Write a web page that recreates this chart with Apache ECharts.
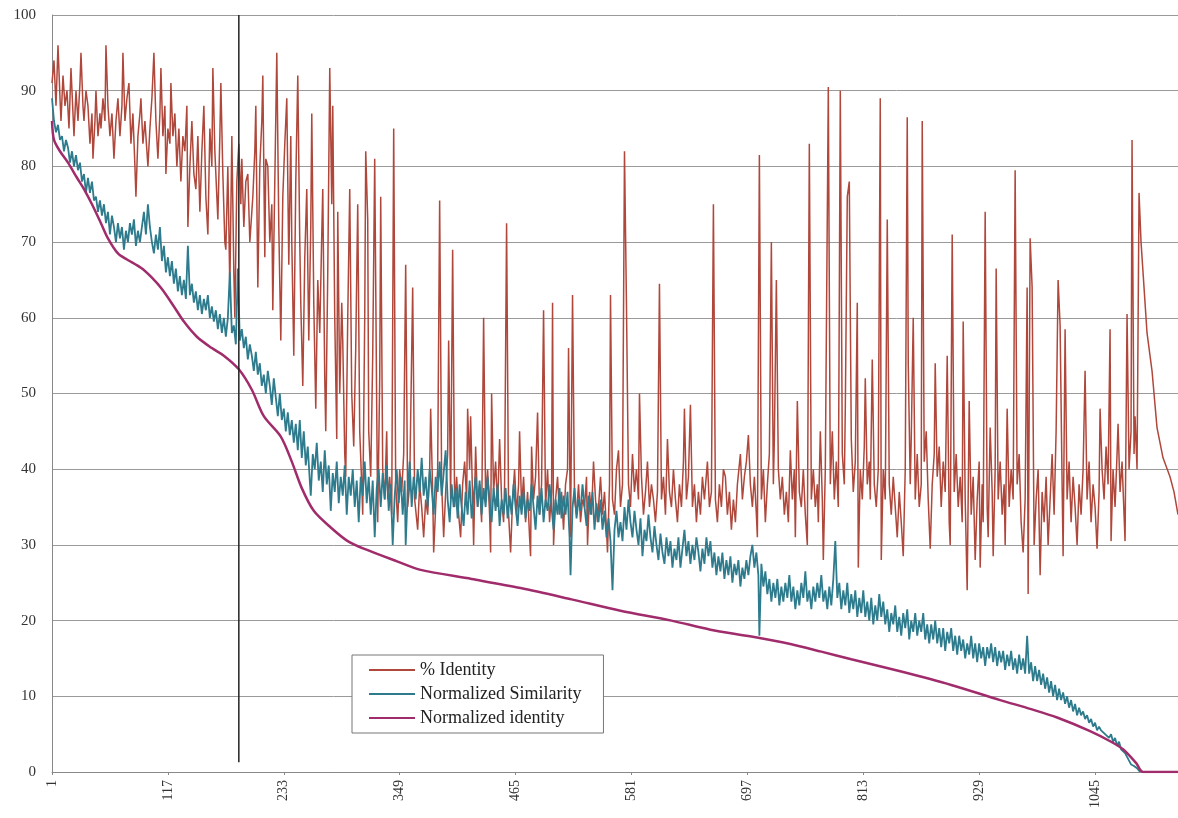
<!DOCTYPE html>
<html>
<head>
<meta charset="utf-8">
<script src="https://cdn.jsdelivr.net/npm/echarts@6/dist/echarts.min.js"></script>
<style>
  html, body { margin: 0; padding: 0; background: #fff; }
  #chart { width: 1178px; height: 818px; }
</style>
</head>
<body>
<div id="chart"></div>
<script>
// x = sequence position (0 based, label shows position + 1)
const tickLabels = ['1', '117', '233', '349', '465', '581', '697', '813', '929', '1045'];
const seriesNames = ['% Identity', 'Normalized Similarity', 'Normalized identity'];

const identityPct = [
  [0,91],[2,94],[4,88],[6,96],[8,89],[9,86],[11,92],[13,88],[15,90],[17,85],[19,93],[21,87],[22,84],[24,90],[26,86],[28,91],[29,95],[31,88],[32,86],[34,90],[36,88],[38,83],[40,87],[41,81],[43,86],[44,90],[46,84],[48,87],[49,85],[51,89],[53,86],[54,96],[56,88],[58,84],[60,87],[62,81],[64,86],[66,89],[68,84],[70,88],[71,95],[73,86],[75,89],[77,91],[79,83],[81,87],[83,80],[84,76],[86,84],[88,87],[89,89],[91,83],[93,86],[95,82],[96,80],[98,85],[100,89],[102,95],[104,86],[106,81],[108,87],[109,93],[111,84],[113,88],[114,79],[116,85],[118,83],[119,91],[121,84],[123,87],[125,80],[127,85],[129,78],[131,84],[133,82],[135,88],[136,72],[138,80],[140,86],[142,79],[144,77],[146,84],[148,74],[150,82],[152,88],[154,76],[156,71],[158,85],[160,80],[161,93],[163,82],[165,76],[166,73],[168,84],[169,91],[171,79],[173,70],[174,69],[176,80],[178,64],[180,84],[182,66],[183,60],[185,78],[187,83],[189,75],
  [190,81],[192,72],[194,78],[196,79],[198,70],[199,70],[201,76],[203,82],[204,88],[206,64],[208,80],[210,86],[211,92],[213,68],[214,81],[216,80],[218,70],[220,75],[221,61],[223,78],[225,95],[227,72],[229,57],[231,76],[233,83],[235,89],[237,67],[239,84],[240,70],[242,55],[244,78],[246,92],[248,70],[249,62],[251,51],[253,68],[255,77],[257,57],[259,72],[260,87],[262,62],[264,48],[266,65],[268,58],[270,71],[271,77],[273,52],[274,45],[276,66],[278,93],[280,75],[281,88],[283,60],[285,44],[286,74],[288,50],[290,62],[291,57],[293,42],[294,39],[296,60],[298,77],[300,50],[302,43],[304,56],[306,75],[308,45],[310,38],[311,34],[313,60],[314,82],[316,73],[317,45],[319,39],[321,55],[323,81],[325,48],[326,33],[328,52],[329,76],[331,40],[333,36],[335,45],[336,36],[338,39],[340,34],[342,85],[344,38],[346,33],[348,40],[350,37],[352,42],[354,67],[356,35],[358,38],[361,64],[363,36],[366,32],[368,38],[370,35],
  [372,31],[374,36],[376,34],[378,40],[379,48],[381,37],[382,29],[384,35],[386,40],[388,75.5],[390,38],[392,31],[394,37],[396,42],[397,57],[399,36],[401,69],[403,35],[405,39],[407,34],[409,31],[411,38],[413,41],[415,36],[416,48],[418,40],[419,47],[421,36],[422,30],[424,43],[426,35],[428,38],[430,33],[432,60],[434,36],[436,40],[438,34],[439,29],[440,50],[442,37],[444,41],[446,35],[448,44],[450,36],[452,33],[453,38],[455,72.5],[457,34],[459,29],[461,36],[463,40],[465,34],[467,38],[468,45],[470,35],[472,39],[474,33],[476,37],[478,31],[479,28.5],[480,43],[482,36],[484,39],[486,47.5],[488,34],[490,38],[492,61],[494,35],[496,40],[498,33],[500,37],[501,62],[502,30],[504,36],[506,39],[508,34],[510,37],[512,32],[514,38],[516,40],[517,56],[519,31],[521,63],[523,36],[525,34],[527,38],[529,33],[531,36],[533,35],[535,39],[536,30],[538,37],[540,34],[542,41],[544,36],[546,33],[548,37],[549,39],[551,34],[553,37],[555,32],[556,29],[558,38],[559,63],[561,36],[563,34],[565,40],[567,42.5],[569,35],
  [571,38],[573,82],[575,61.5],[577,38],[579,35],[581,42],[583,37],[585,40],[587,36],[588,50],[590,39],[592,34],[594,37],[596,41],[598,35],[600,38],[602,36],[604,33],[606,37],[608,64.5],[610,36],[612,39],[614,34],[616,44],[618,37],[620,35],[622,40],[624,36],[626,33],[628,38],[630,35],[632,41],[633,48],[635,36],[637,39],[639,48.5],[641,35],[643,38],[645,33],[647,37],[649,34],[651,39],[653,36],[656,41],[658,35],[660,37],[662,75],[664,36],[666,33],[668,38],[670,35],[672,40],[674,39],[676,34],[678,37],[680,32],[682,36],[684,33],[686,38],[689,42],[691,36],[693,39],[695,41],[697,44.5],[699,38],[701,35],[703,39],[705,34],[706,31],[708,81.5],[710,36],[712,40],[714,33],[716,38],[718,42],[720,70],[722,38],[723,44],[725,65],[727,40],[729,36],[731,39],[733,34],[735,37],[737,33],[739,42.5],[741,36],[743,40],[744,31],[746,49],[748,37],[750,35],[752,40],[754,34],[756,30],[758,83],[760,36],[762,40],[764,35],[766,38],[767,33],[769,45],[771,36],[772,28],[774,40],[777,90.5],[779,38],[781,45],[783,36],[785,41],[787,35],[789,90],[791,42],[793,38],[794,48],[796,76],[798,78],[800,44],[802,37],[804,41],[806,62],[807,27],[809,40],[811,36],[813,43],[814,52],[816,38],[818,41],[819,36],[821,54.5],[823,38],[825,35],[827,40],[829,89],
  [830,28],[832,40],[834,36],[836,73],[838,38],[840,34],[842,39],[844,35],[846,31],[848,37],[850,33],[852,28.5],[854,40],[856,86.5],[857,54],[859,38],[860,44],[862,60],[864,36],[866,42],[868,35],[870,38],[871,86],[873,41],[875,45],[877,36],[879,29.5],[881,38],[883,42],[884,54],[886,39],[888,43],[890,35],[892,41],[894,37],[896,55],[898,33],[899,30],[901,71],[903,37],[905,42],[907,35],[909,39],[911,33],[912,59.5],[914,36],[916,24],[918,49],[920,34],[922,39],[924,28],[926,36],[928,41],[929,27],[931,38],[932,33],[934,74],[936,35],[937,31],[939,45.5],[941,37],[942,28.5],[944,40],[945,66.5],[947,36],[949,41],[951,34],[953,38],[954,30],[956,48],[958,35],[960,40],[962,36],[964,79.5],[966,38],[968,42],[970,33],[972,29],[974,36],[976,64],[977,23.5],[979,70.5],[981,64],[983,30],[985,36],[987,40],[989,26],[991,37],[993,33],[995,39],[997,30],[999,36],[1001,42],[1003,34],[1005,45],[1007,65],[1009,59],[1011,38],[1012,28.5],[1014,58.5],[1016,36],[1018,41],[1020,33],[1022,39],[1024,35],[1026,30],[1028,38],[1030,34],[1032,40],[1034,53],[1036,36],[1038,41],[1040,33],[1042,38],[1044,35],[1046,29.5],[1048,37],[1049,48],[1051,40],[1053,36],[1055,43],[1057,38],[1059,58.5],[1060,30.5],[1062,40],[1064,35],[1066,42],[1067,46],[1069,37],[1071,41],[1073,34],[1074,30.5],[1076,60.5],[1078,40],[1080,45],[1081,83.5],[1083,42],[1084,47],[1086,40],[1088,76.5],[1090,70],[1092,66],[1096,58],[1101,53],[1106,45.5],[1112,41.5],[1119,39],[1123,37],[1127,34]
];

const normSimilarity = [
  [0,89],[2,86],[4,84.5],[6,85.5],[8,83.5],[10,84],[12,82],[14,83.5],[16,82.5],[18,80.5],[20,82],[22,80],[24,81.5],[26,79.5],[28,80.5],[30,78],[32,79],[34,76.5],[36,78.5],[38,76.5],[40,78],[42,75.5],[44,76],[46,74],[48,75.5],[50,73.5],[52,75],[54,72.5],[56,74],[58,71],[60,73.5],[62,72],[64,70],[66,72.5],[68,70.5],[70,72],[72,69],[74,71.5],[76,70],[78,72.5],[80,71],[82,73],[84,69.5],[86,71.5],[88,70],[90,72],[92,74],[94,71],[96,75],[98,72],[100,70],[102,68.5],[104,71],[106,69],[108,72],[110,67.5],[112,69.5],[114,66],[116,68],[118,65.5],[120,67.5],[122,64.5],[124,66.5],[126,63.5],[128,65.5],[130,63],[132,65],[134,62.5],[136,69.5],[138,63],[140,64.5],[142,62],[144,63.5],[146,61],[148,63],[150,60.5],[152,62.5],[154,61],[156,63],[158,60],[160,61.5],[162,59.5],[164,61],[166,58.5],[168,60.5],[170,58],[172,60],[174,57.5],[176,60],[178,66],[180,58],[182,59],[184,56.5],[186,66.5],[188,57],[190,58.5],[192,56],[194,57.5],[196,54.5],[198,56.5],[200,55],[202,53],[204,55.5],[206,52.5],[208,54],[210,51],[212,52.5],[214,50],[216,53],[218,51],[220,48.5],[222,52],[224,49.5],[226,47],[228,50],[230,46.5],[232,48],[234,45],[236,47.5],[238,44.5],[240,46.5],[242,43.5],[244,46],[246,42.5],[248,46.5],[250,41.5],[252,45],[254,40.5],[256,43],[258,38.5],[259,36.5],[261,42],[263,40],[265,43.5],[267,38.5],[269,41],[271,37],[273,42.5],[275,38],[277,40.5],[279,34.5],[281,39.5],[283,37],[285,41],[287,35.5],[289,39],[291,36.5],[293,40.5],[295,34],[297,39],[299,36.5],
  [301,40],[303,35],[305,38.5],[307,33],[309,39],[311,36.5],[313,41],[315,35.5],[317,39],[319,34],[321,38.5],[323,31],[325,37.5],[327,40],[329,35],[331,39.5],[333,36],[335,40.5],[337,34.5],[339,38],[341,30],[343,36.5],[345,40],[347,35.5],[349,39],[351,34],[353,38.5],[354,30],[356,37],[358,41],[360,35],[362,39],[364,36],[366,40],[368,37],[370,41.5],[372,36.5],[374,39],[376,35],[378,40],[380,37.5],[382,34],[384,39],[386,37],[388,41],[390,36.5],[392,39.5],[394,42.5],[396,36],[398,33],[400,38],[402,35],[404,37.5],[406,33.5],[408,38],[410,35],[412,32.5],[414,37],[416,34],[418,38.5],[420,33.5],[422,36.5],[424,39],[426,35],[428,38.5],[430,34],[432,37.5],[434,35],[436,39],[438,36],[440,33],[442,37.5],[444,34.5],[446,38],[448,32.5],[450,36],[452,34],[454,37.5],[456,33.5],[458,36.5],[460,34],[462,38],[464,35],[466,32.5],[468,36.5],[470,34],[472,37],[474,33.5],[476,36],[478,34.5],[480,38],[482,35],[484,32],[486,36.5],[488,34],[490,37.5],[492,33],[494,36],[496,34.5],[498,38],
  [500,35],[502,32],[504,36],[506,34],[508,37.5],[510,33.5],[512,36.5],[514,34],[516,37],[518,31],[519,26],[521,35],[523,37.5],[525,33.5],[527,36],[529,34.5],[531,38],[533,35],[535,32.5],[537,36.5],[539,34],[541,37],[543,32],[545,35.5],[547,33],[549,36],[551,32],[553,34.5],[555,31],[557,33.5],[559,30.5],[561,24],[563,32],[565,34.5],[567,31],[569,33],[571,30.5],[573,35],[575,32],[577,36],[579,33],[581,31],[583,34.5],[585,32],[587,30],[589,33.5],[591,28.5],[593,32],[595,30.5],[597,34],[599,31],[601,29],[603,32.5],[605,30],[607,28],[609,31.5],[611,29],[613,27.5],[615,31],[617,28.5],[619,30.5],[621,27],[623,29.5],[625,28],[627,31],[629,27],[631,29.5],[633,32],[635,28.5],[637,30.5],[639,27.5],[641,30],[643,28],[645,31],[647,29],[649,26.5],[651,29.5],[653,27.5],[655,31],[657,28.5],[659,30.5],[661,27],[663,29],[665,26],[667,28.5],[669,26.5],[671,29],[673,25.5],[675,28],[677,26],[679,28.5],[681,25],[683,27.5],[685,26],[687,28],[689,24.5],[691,27],[693,25.5],[695,28],[697,26],[699,28.5],
  [701,30],[703,27],[705,29],[707,26],[708,18],[710,27.5],[712,24.5],[714,26.5],[716,23.5],[718,25.5],[720,22.5],[722,25],[724,23],[726,25.5],[728,22],[730,24.5],[732,22.5],[734,25],[736,23],[738,26],[740,22.5],[742,24.5],[744,21.5],[746,24],[748,22],[750,25],[752,23],[754,26.5],[756,22.5],[758,24],[760,21.5],[762,24.5],[764,22.5],[766,25],[768,23],[770,26],[772,22.5],[774,24],[776,21.5],[778,24.5],[780,22],[782,25.5],[784,30.5],[786,23],[788,25],[790,21.5],[792,24],[794,22],[796,25],[798,21],[800,23.5],[802,21.5],[804,24],[806,20.5],[808,23],[810,21],[812,24],[814,20.5],[816,22.5],[818,20],[820,23],[822,19.5],[824,22],[826,20],[828,23.5],[830,20.5],[832,22.5],[834,19.5],[836,21.5],[838,18.5],[840,21],[842,19.5],[844,22],[846,18.5],[848,20.5],[850,18],[852,21],[854,19],[856,21.5],[858,17.5],
  [860,20],[862,18.5],[864,21],[866,18],[868,20],[870,18.5],[872,21],[874,17.5],[876,19.5],[878,17],[880,19.5],[882,17.5],[884,20],[886,17],[888,19],[890,16.5],[892,19],[894,16],[896,18.5],[898,17],[900,19],[902,16],[904,18],[906,15.5],[908,18],[910,16],[912,17.5],[914,15],[916,17],[918,15.5],[920,18],[922,15],[924,17],[926,14.5],[928,17],[930,15],[932,16.5],[934,14],[936,16.5],[938,15],[940,17],[942,14.5],[944,16.5],[946,14],[948,16],[950,14.5],[952,16],[954,13.5],[956,15.5],[958,14],[960,16],[962,13.5],[964,15],[966,13],[968,15.5],[970,13.5],[972,15],[974,13],[976,18],[978,13],[980,14.5],[982,12],[984,14],[986,12],[988,13.5],[990,11.5],[992,13],[994,11],[996,12.5],[998,10.5],[1000,12],[1002,10],[1004,11.5],[1006,9.5],[1008,11],[1010,9.5],[1012,10.5],[1014,9],[1016,10],[1018,8.5],[1020,9.5],[1022,8],[1024,9],[1026,7.5],[1028,8.5],[1030,7.5],[1032,8],[1034,7],[1036,7.5],[1038,6.5],[1040,7],[1042,6],[1044,6.5],[1046,5.5],[1048,6],[1050,5.5],[1052,5.5],[1054,5],[1056,5],[1058,4.5],[1060,5],[1062,4],[1064,4.5],[1066,3.5],[1068,4],[1070,3],[1072,3],[1074,2.5],[1076,2],[1078,1.5],[1080,1],[1083,0.8],[1086,0.5],[1089,0]
];

const normIdentity = [
  [0,86],[2,83.5],[8,82],[16,80.5],[25,78.5],[32,77],[40,75],[49,72.5],[56,70.5],[66,68.5],[75,67.7],[89,66.6],[100,65.3],[110,63.8],[122,61.5],[132,59.5],[145,57.5],[160,56],[172,55],[187,53.2],[200,50.5],[212,47],[229,44.3],[240,41],[250,37.5],[262,34.5],[279,32.3],[296,30.5],[312,29.5],[346,27.8],[369,26.7],[420,25.5],[469,24.3],[520,22.8],[569,21.3],[620,20],[659,18.8],[700,17.9],[739,16.9],[770,15.9],[800,14.9],[849,13.3],[900,11.5],[949,9.5],[980,8.3],[1006,7.2],[1039,5.4],[1060,4],[1072,3],[1085,1.2],[1092,0],[1127,0]
];

// black vertical rule drawn across the plot
const markerLine = [[187,1.3],[187,100]];

const serif = 'Liberation Serif';
const chart = echarts.init(document.getElementById('chart'));

const option = {
  animation: false,
  backgroundColor: '#fff',
  grid: { left: 52, right: 0, top: 15, bottom: 46 },
  legend: {
    data: seriesNames.map(n => ({ name: n, icon: 'rect' })),
    orient: 'vertical',
    left: 352,
    top: 655,
    backgroundColor: '#fff',
    borderColor: '#777',
    borderWidth: 1,
    padding: [6, 22, 6, 17],
    itemWidth: 46,
    itemHeight: 2,
    itemGap: 6,
    textStyle: { fontFamily: serif, fontSize: 18, lineHeight: 18, color: '#222' }
  },
  xAxis: {
    type: 'value',
    min: 0,
    max: 1127,
    interval: 116,
    splitLine: { show: false },
    axisLine: { lineStyle: { color: '#888' } },
    axisTick: { show: true, length: 3, lineStyle: { color: '#888' } },
    axisLabel: {
      rotate: 90,
      showMaxLabel: false,
      margin: 8,
      fontFamily: serif,
      fontSize: 14,
      color: '#333',
      formatter: v => tickLabels[Math.round(v / 116)] || ''
    }
  },
  yAxis: {
    type: 'value',
    min: 0,
    max: 100,
    interval: 10,
    axisLine: { show: true, lineStyle: { color: '#888' } },
    axisTick: { show: false },
    splitLine: { lineStyle: { color: '#9a9a9a', width: 1 } },
    axisLabel: { fontFamily: serif, fontSize: 15, color: '#333', margin: 16 }
  },
  series: [
    {
      name: seriesNames[0],
      type: 'line',
      data: identityPct,
      showSymbol: false,
      symbol: 'none',
      lineStyle: { color: '#b0473b', width: 1.5 },
      itemStyle: { color: '#b0473b' }
    },
    {
      name: seriesNames[1],
      type: 'line',
      data: normSimilarity,
      showSymbol: false,
      symbol: 'none',
      lineStyle: { color: '#2d7b8d', width: 1.8 },
      itemStyle: { color: '#2d7b8d' }
    },
    {
      name: seriesNames[2],
      type: 'line',
      data: normIdentity,
      showSymbol: false,
      symbol: 'none',
      smooth: 0.3,
      lineStyle: { color: '#a02c6c', width: 2.5 },
      itemStyle: { color: '#a02c6c' }
    },
    {
      name: 'marker',
      type: 'line',
      data: markerLine,
      showSymbol: false,
      symbol: 'none',
      lineStyle: { color: '#222', width: 1.5 }
    }
  ]
};

chart.setOption(option);
</script>
</body>
</html>
